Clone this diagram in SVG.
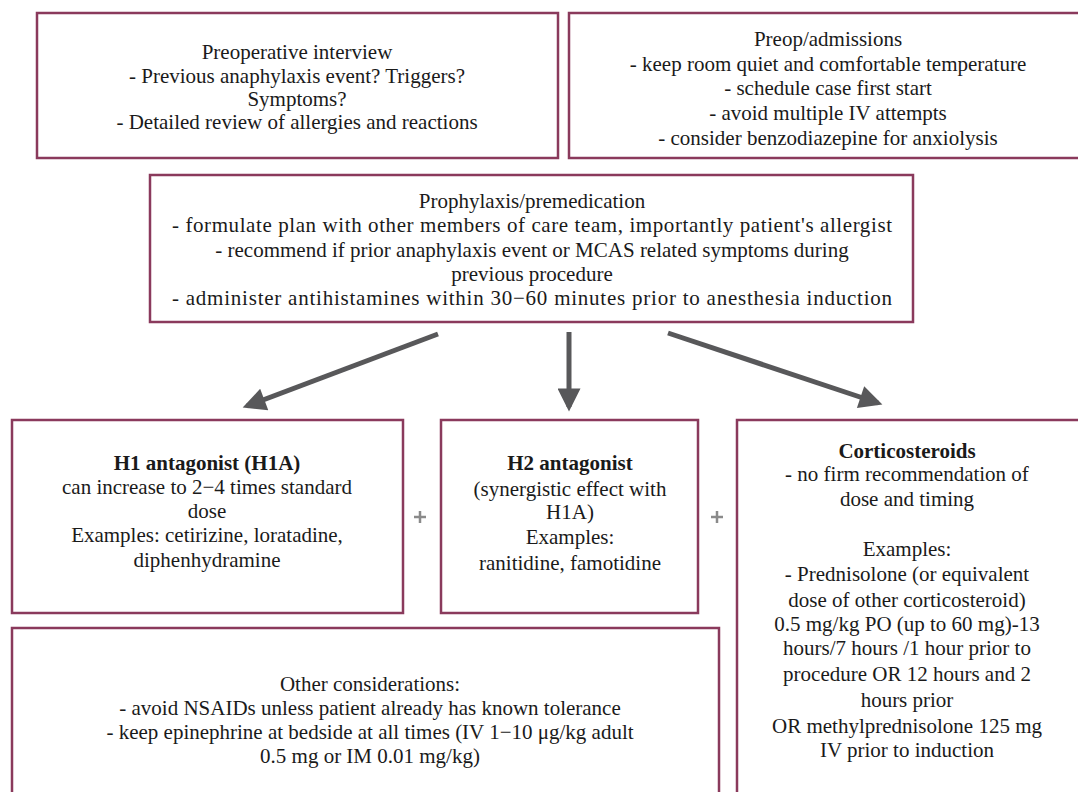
<svg xmlns="http://www.w3.org/2000/svg" width="1078" height="792" viewBox="0 0 1078 792">
<style>
.box{fill:#fff;stroke:#8a3a5c;stroke-width:2.5}
.t{font-family:'Liberation Serif','Times New Roman',serif;font-size:21px;fill:#1a1a1a;text-anchor:middle}
.b{font-weight:bold}
.arr{stroke:#58585a;stroke-width:5;fill:none;marker-end:url(#ah)}
.plus{stroke:#8a8a8a;stroke-width:2.5}
</style>
<defs>
<marker id="ah" viewBox="0 0 10 10" refX="8" refY="5" markerWidth="5.2" markerHeight="4.6" markerUnits="strokeWidth" orient="auto">
<path d="M0,0 L10,5 L0,10 z" fill="#58585a"/>
</marker>
</defs>
<rect width="1078" height="792" fill="#fff"/>
<g id="preop-interview">
<rect class="box" x="37" y="13" width="521" height="145"/>
<text class="t" x="297" y="59">Preoperative interview</text>
<text class="t" x="297" y="83">- Previous anaphylaxis event? Triggers?</text>
<text class="t" x="297" y="106">Symptoms?</text>
<text class="t" x="297" y="129">- Detailed review of allergies and reactions</text>
</g>
<g id="preop-admissions">
<rect class="box" x="569" y="13" width="515" height="145"/>
<text class="t" x="828" y="46">Preop/admissions</text>
<text class="t" x="828" y="71">- keep room quiet and comfortable temperature</text>
<text class="t" x="828" y="95">- schedule case first start</text>
<text class="t" x="828" y="120">- avoid multiple IV attempts</text>
<text class="t" x="828" y="145">- consider benzodiazepine for anxiolysis</text>
</g>
<g id="prophylaxis">
<rect class="box" x="150" y="175" width="763" height="147"/>
<text class="t" x="532" y="208">Prophylaxis/premedication</text>
<text class="t" x="532" y="232" textLength="720" lengthAdjust="spacing">- formulate plan with other members of care team, importantly patient's allergist</text>
<text class="t" x="532" y="257">- recommend if prior anaphylaxis event or MCAS related symptoms during</text>
<text class="t" x="532" y="281">previous procedure</text>
<text class="t" x="532" y="305" textLength="720" lengthAdjust="spacing">- administer antihistamines within 30−60 minutes prior to anesthesia induction</text>
</g>
<g id="h1">
<rect class="box" x="12" y="420" width="391" height="193"/>
<text class="t b" x="207" y="470">H1 antagonist (H1A)</text>
<text class="t" x="207" y="494">can increase to 2−4 times standard</text>
<text class="t" x="207" y="518">dose</text>
<text class="t" x="207" y="542">Examples: cetirizine, loratadine,</text>
<text class="t" x="207" y="567">diphenhydramine</text>
</g>
<g id="h2">
<rect class="box" x="441" y="420" width="257" height="193"/>
<text class="t b" x="570" y="470">H2 antagonist</text>
<text class="t" x="570" y="496">(synergistic effect with</text>
<text class="t" x="570" y="519">H1A)</text>
<text class="t" x="570" y="544">Examples:</text>
<text class="t" x="570" y="570">ranitidine, famotidine</text>
</g>
<g id="corticosteroids">
<rect class="box" x="737" y="420" width="350" height="380"/>
<text class="t b" x="907" y="458">Corticosteroids</text>
<text class="t" x="907" y="481">- no firm recommendation of</text>
<text class="t" x="907" y="506">dose and timing</text>
<text class="t" x="907" y="556">Examples:</text>
<text class="t" x="907" y="581">- Prednisolone (or equivalent</text>
<text class="t" x="907" y="607">dose of other corticosteroid)</text>
<text class="t" x="907" y="631">0.5 mg/kg PO (up to 60 mg)-13</text>
<text class="t" x="907" y="655">hours/7 hours /1 hour prior to</text>
<text class="t" x="907" y="681">procedure OR 12 hours and 2</text>
<text class="t" x="907" y="707">hours prior</text>
<text class="t" x="907" y="733">OR methylprednisolone 125 mg</text>
<text class="t" x="907" y="757">IV prior to induction</text>
</g>
<g id="other">
<rect class="box" x="12" y="628" width="707" height="180"/>
<text class="t" x="370" y="691">Other considerations:</text>
<text class="t" x="370" y="715">- avoid NSAIDs unless patient already has known tolerance</text>
<text class="t" x="370" y="739">- keep epinephrine at bedside at all times (IV 1−10 μg/kg adult</text>
<text class="t" x="370" y="763">0.5 mg or IM 0.01 mg/kg)</text>
</g>
<g id="connectors">
<line class="arr" x1="438" y1="334" x2="247" y2="406"/>
<line class="arr" x1="569" y1="332" x2="569" y2="407"/>
<line class="arr" x1="668" y1="333" x2="878" y2="403"/>
<path class="plus" d="M414,517 h12 M420,511 v12"/>
<path class="plus" d="M711,517 h12 M717,511 v12"/>
</g>
</svg>
